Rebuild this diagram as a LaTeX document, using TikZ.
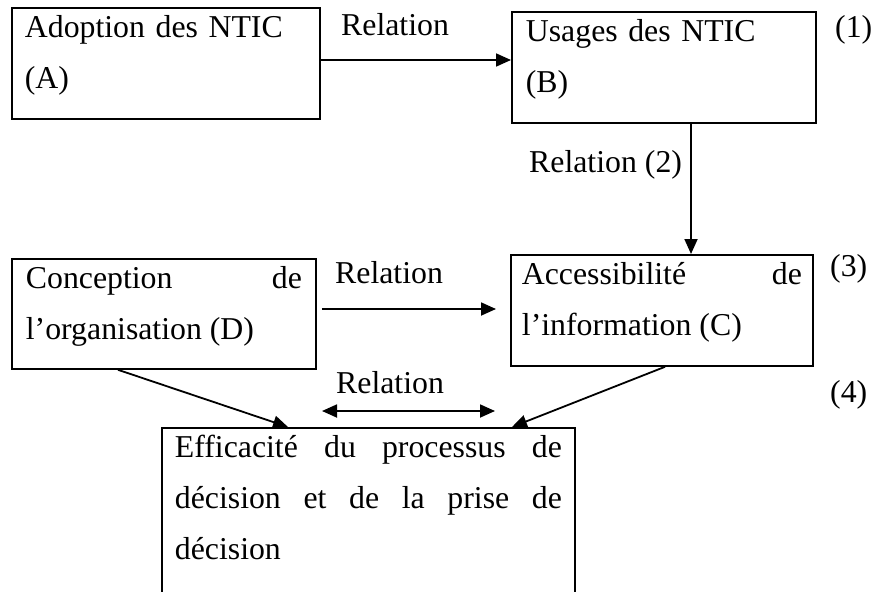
\documentclass[tikz,border=0pt]{standalone}
\usepackage{fontspec}
\setmainfont{Liberation Serif}
\usetikzlibrary{arrows.meta}
\hyphenpenalty=10000
\exhyphenpenalty=10000
\begin{document}
\begin{tikzpicture}[x=1pt,y=-1pt,
  every node/.style={font=\fontsize{31.8}{51}\selectfont},
  box/.style={draw, line width=1.8pt, anchor=north west, inner ysep=0pt, text height=30pt},
  lbl/.style={anchor=base west, inner sep=0pt},
  arr/.style={line width=1.8pt, -{Triangle[length=15pt,width=13pt]}},
  darr/.style={line width=1.8pt, {Triangle[length=15pt,width=13pt]}-{Triangle[length=15pt,width=13pt]}},
]
\clip (0,0) rectangle (874,591);
\fill[white] (0,0) rectangle (874,591);

% boxes
\node[box, inner xsep=13pt, text width=282pt, text depth=81pt, align=left] (A) at (11,7)
  {Adoption des NTIC\\(A)};
\node[box, inner xsep=14pt, text width=276pt, text depth=81pt, align=left] (B) at (511,11)
  {Usages des NTIC\\(B)};
\node[box, inner xsep=11pt, text width=280pt, text depth=81pt, align=justify] (C) at (510,254)
  {Accessibilité de\linebreak l’information (C)};
\node[box, inner xsep=14pt, text width=276pt, text depth=80pt, align=justify] (D) at (11,258)
  {Conception de\linebreak l’organisation (D)};
\node[box, inner xsep=13pt, text width=387pt, text depth=200pt, align=justify] (E) at (161,427)
  {Efficacité du processus de\linebreak décision et de la prise de\linebreak décision};

% relation labels and numbers
\node[lbl] (r1) at (341,36) {Relation};
\node[lbl] (r2) at (529,172) {Relation (2)};
\node[lbl] (r3) at (335,283) {Relation};
\node[lbl] (r4) at (336,393) {Relation};
\node[lbl] (n1) at (835,38) {(1)};
\node[lbl] (n3) at (830,276) {(3)};
\node[lbl] (n4) at (830,402) {(4)};

% connectors
\draw[arr] (A.east |- 0,60) -- (B.west |- 0,60);
\draw[arr] (B.south -| 691,0) -- (C.north -| 691,0);
\draw[arr, shorten <=5pt, shorten >=14pt] (D.east |- 0,309) -- (C.west |- 0,309);
\coordinate (dl) at (322,411);
\coordinate (dr) at (495,411);
\draw[darr] (dl) -- (dr);
\draw[arr] (D.south -| 118,0) -- (E.north -| 288,0);
\draw[arr] (C.south -| 665,0) -- (E.north -| 512,0);
\end{tikzpicture}
\end{document}
